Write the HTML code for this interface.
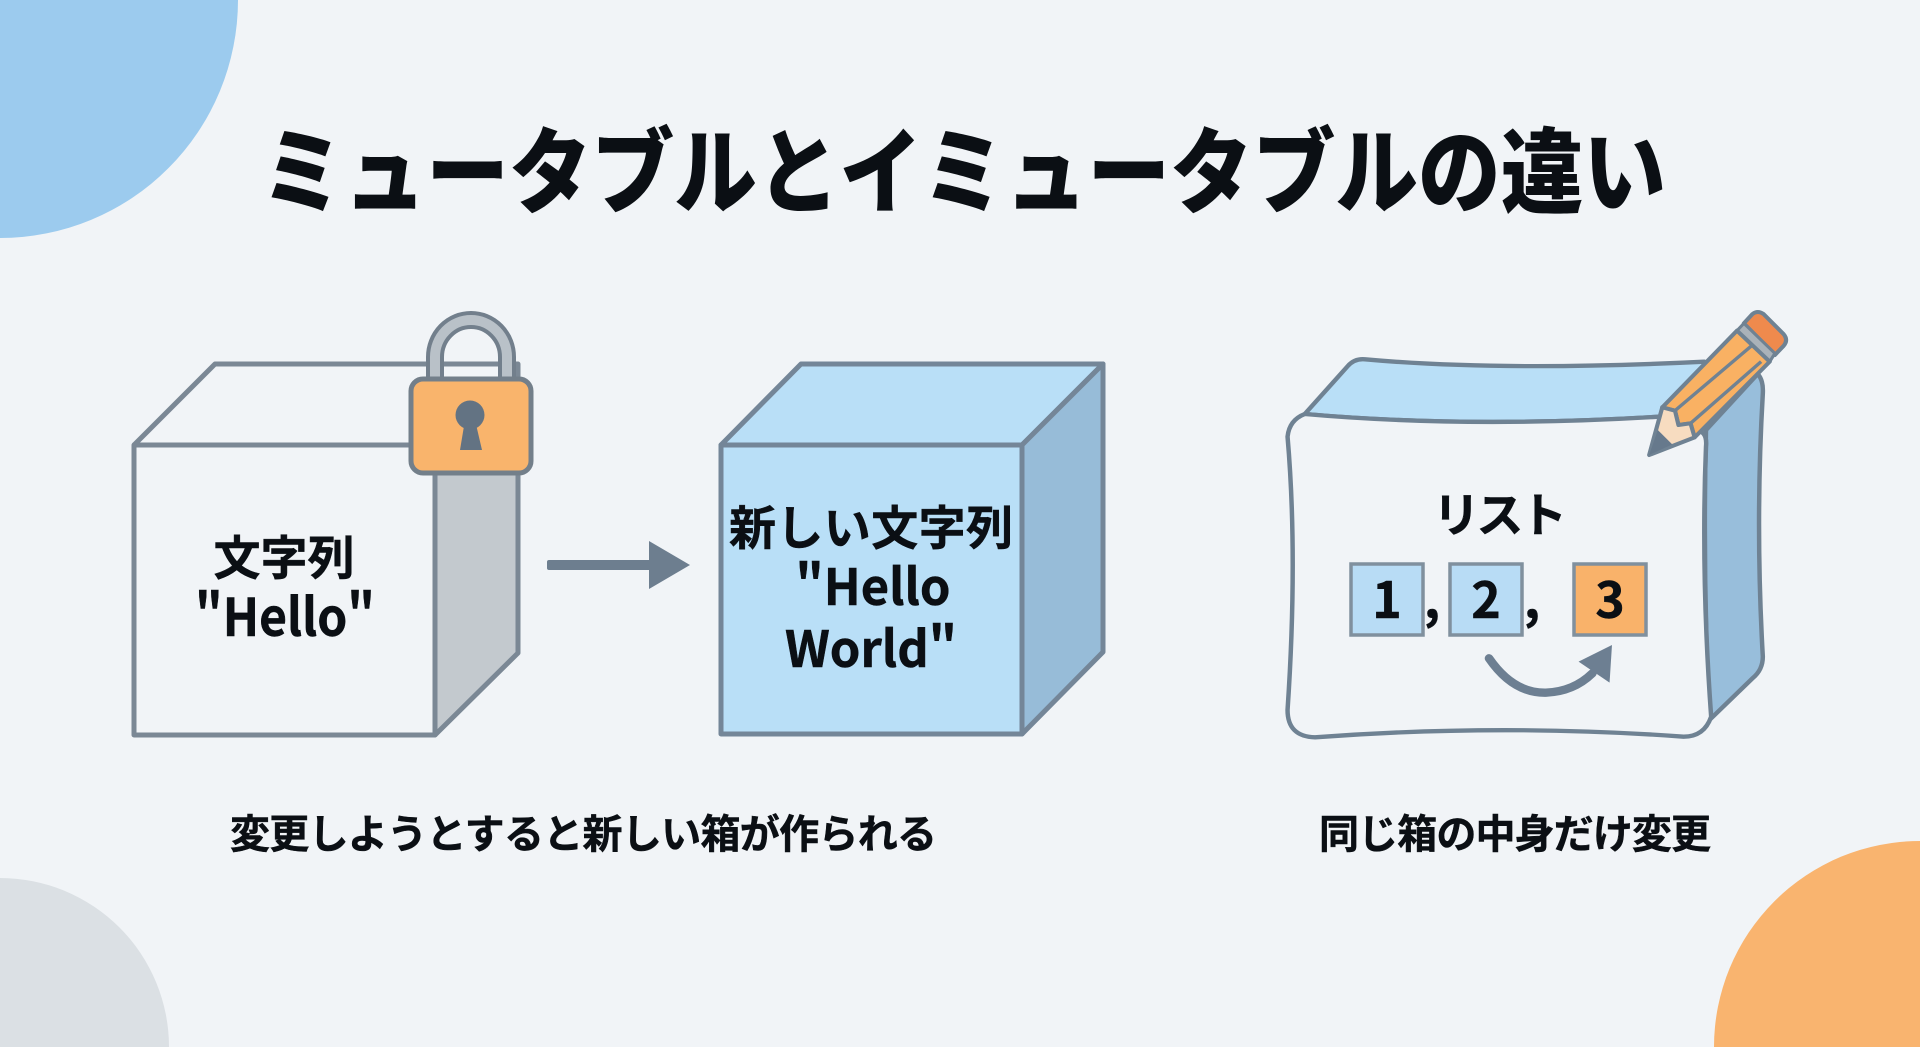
<!DOCTYPE html>
<html lang="ja"><head><meta charset="utf-8"><title>ミュータブルとイミュータブルの違い</title>
<style>
html,body{margin:0;padding:0;width:1920px;height:1047px;overflow:hidden;background:#f1f4f7}
svg{display:block;overflow:hidden}
text{font-family:"Noto Sans CJK JP","Liberation Sans",sans-serif;font-weight:700;fill:#0b0f14;stroke:#0b0f14;stroke-width:.5}
</style></head><body>
<svg width="1920" height="1047" viewBox="0 0 1920 1047" xmlns="http://www.w3.org/2000/svg">
<rect width="1920" height="1047" fill="#f1f4f7"/>
<path d="M0 0H238A238 238 0 0 1 0 238Z" fill="#9ccbee"/>
<path d="M0 878A169 169 0 0 1 169 1047H0Z" fill="#dbe0e4"/>
<path d="M1920 841A206 206 0 0 0 1714 1047H1920Z" fill="#f9b46f"/>

<g transform="translate(0 206) scale(1 1.1)">
<text x="261" y="0" font-size="85" textLength="1405" lengthAdjust="spacingAndGlyphs" style="font-weight:900;stroke:none">ミュータブルとイミュータブルの違い</text>
</g>

<!-- immutable box -->
<g stroke="#7b8895" stroke-width="5" stroke-linejoin="round">
<path d="M435 473H518V653L435 735Z" fill="#c3c9ce"/>
<path d="M134 445H435V735H134Z" fill="#f1f4f7"/>
<path d="M134 445L215 364H518V473" fill="none"/>
</g>
<!-- lock -->
<path d="M435 385V357A35.5 36.5 0 0 1 507 357V385" fill="none" stroke="#727f8c" stroke-width="18"/>
<path d="M435 385V357A35.5 36.5 0 0 1 507 357V385" fill="none" stroke="#b9c1c8" stroke-width="10"/>
<rect x="411" y="379" width="120" height="94" rx="12" fill="#f9b46c" stroke="#737f8a" stroke-width="5"/>
<circle cx="470" cy="415" r="14.5" fill="#637383"/>
<path d="M465 420H475L482 450H460Z" fill="#637383"/>

<text x="284" y="575" text-anchor="middle" font-size="47">文字列</text>
<text x="285" y="636" text-anchor="middle" font-size="52" textLength="180" lengthAdjust="spacingAndGlyphs">"Hello"</text>

<!-- arrow -->
<rect x="547" y="560" width="105" height="10" rx="2" fill="#6d7e8f"/>
<path d="M649 541L690 565L649 589Z" fill="#6d7e8f"/>

<!-- new box -->
<g stroke="#748698" stroke-width="5" stroke-linejoin="round">
<path d="M721 445L801 364H1103L1022 445Z" fill="#b9dff7"/>
<path d="M1022 445L1103 364V652L1022 734Z" fill="#97bcd8"/>
<path d="M721 445H1022V734H721Z" fill="#b9dff7"/>
</g>
<text x="871" y="545" text-anchor="middle" font-size="47" textLength="284" lengthAdjust="spacing">新しい文字列</text>
<text x="873" y="605" text-anchor="middle" font-size="50" textLength="155" lengthAdjust="spacingAndGlyphs">"Hello</text>
<text x="871" y="667" text-anchor="middle" font-size="50" textLength="172" lengthAdjust="spacingAndGlyphs">World"</text>

<!-- list box -->
<g transform="translate(1260 290) scale(.3444 .33333)" stroke-linejoin="round">
<path d="M130 372L255 228Q275 205 305 208Q700 245 1290 215L1300 400L1160 380Q600 415 130 372Z" fill="#b9dff7" stroke="#6f8293" stroke-width="13"/>
<path d="M1295 420L1445 252Q1462 270 1460 310Q1438 700 1460 1100Q1460 1140 1430 1165L1305 1290Q1285 850 1295 420Z" fill="#98bedb" stroke="#6f8293" stroke-width="13"/>
<path d="M130 372Q600 415 1160 380L1260 420Q1300 420 1295 470Q1280 850 1310 1280Q1290 1340 1230 1340Q700 1300 160 1342Q80 1340 80 1260Q110 800 80 440Q85 390 130 372Z" fill="#f1f4f7" stroke="#6f8293" stroke-width="13"/>
<!-- pencil -->
<path d="M1405 100L1430 72Q1445 60 1462 72L1520 132Q1535 150 1520 168L1495 195Z" fill="#ef8a4d" stroke="#6f8293" stroke-width="12"/>
<path d="M1385 122L1405 100L1495 190L1480 215Z" fill="#aab2b9" stroke="#6f8293" stroke-width="9"/>
<path d="M1168 352L1385 122L1480 215L1262 442L1250 400L1215 405L1205 362Z" fill="#f9b163" stroke="#6f8293" stroke-width="12"/>
<path d="M1205 362L1430 165M1250 400L1455 215" fill="none" stroke="#6f8293" stroke-width="10"/>
<path d="M1168 352L1205 362L1215 405L1250 400L1262 442L1130 495Z" fill="#f7dcc0" stroke="#6f8293" stroke-width="12"/>
<path d="M1130 495L1155 420L1197 463Z" fill="#66798c"/>
<!-- curved arrow -->
<path d="M665 1105Q735 1210 830 1208Q910 1205 965 1150" fill="none" stroke="#6d7f92" stroke-width="25" stroke-linecap="round"/>
<path d="M1022 1065L925 1115L1015 1178Z" fill="#6d7f92"/>
</g>

<g stroke="#80909e" stroke-width="3.5">
<rect x="1351" y="564" width="72" height="71" fill="#b8dcf5"/>
<rect x="1450" y="564" width="72" height="71" fill="#b8dcf5"/>
<rect x="1574" y="564" width="72" height="71" fill="#f9b26a"/>
</g>
<text x="1433" y="532" font-size="47" textLength="134" lengthAdjust="spacing">リスト</text>
<text x="1387" y="618" text-anchor="middle" font-size="50">1</text>
<text x="1432" y="618" text-anchor="middle" font-size="50">,</text>
<text x="1486" y="618" text-anchor="middle" font-size="50">2</text>
<text x="1532" y="618" text-anchor="middle" font-size="50">,</text>
<text x="1610" y="618" text-anchor="middle" font-size="50">3</text>

<text x="230" y="848" font-size="40" textLength="707" lengthAdjust="spacing">変更しようとすると新しい箱が作られる</text>
<text x="1319" y="848" font-size="40" textLength="392" lengthAdjust="spacing">同じ箱の中身だけ変更</text>
</svg>
</body></html>
